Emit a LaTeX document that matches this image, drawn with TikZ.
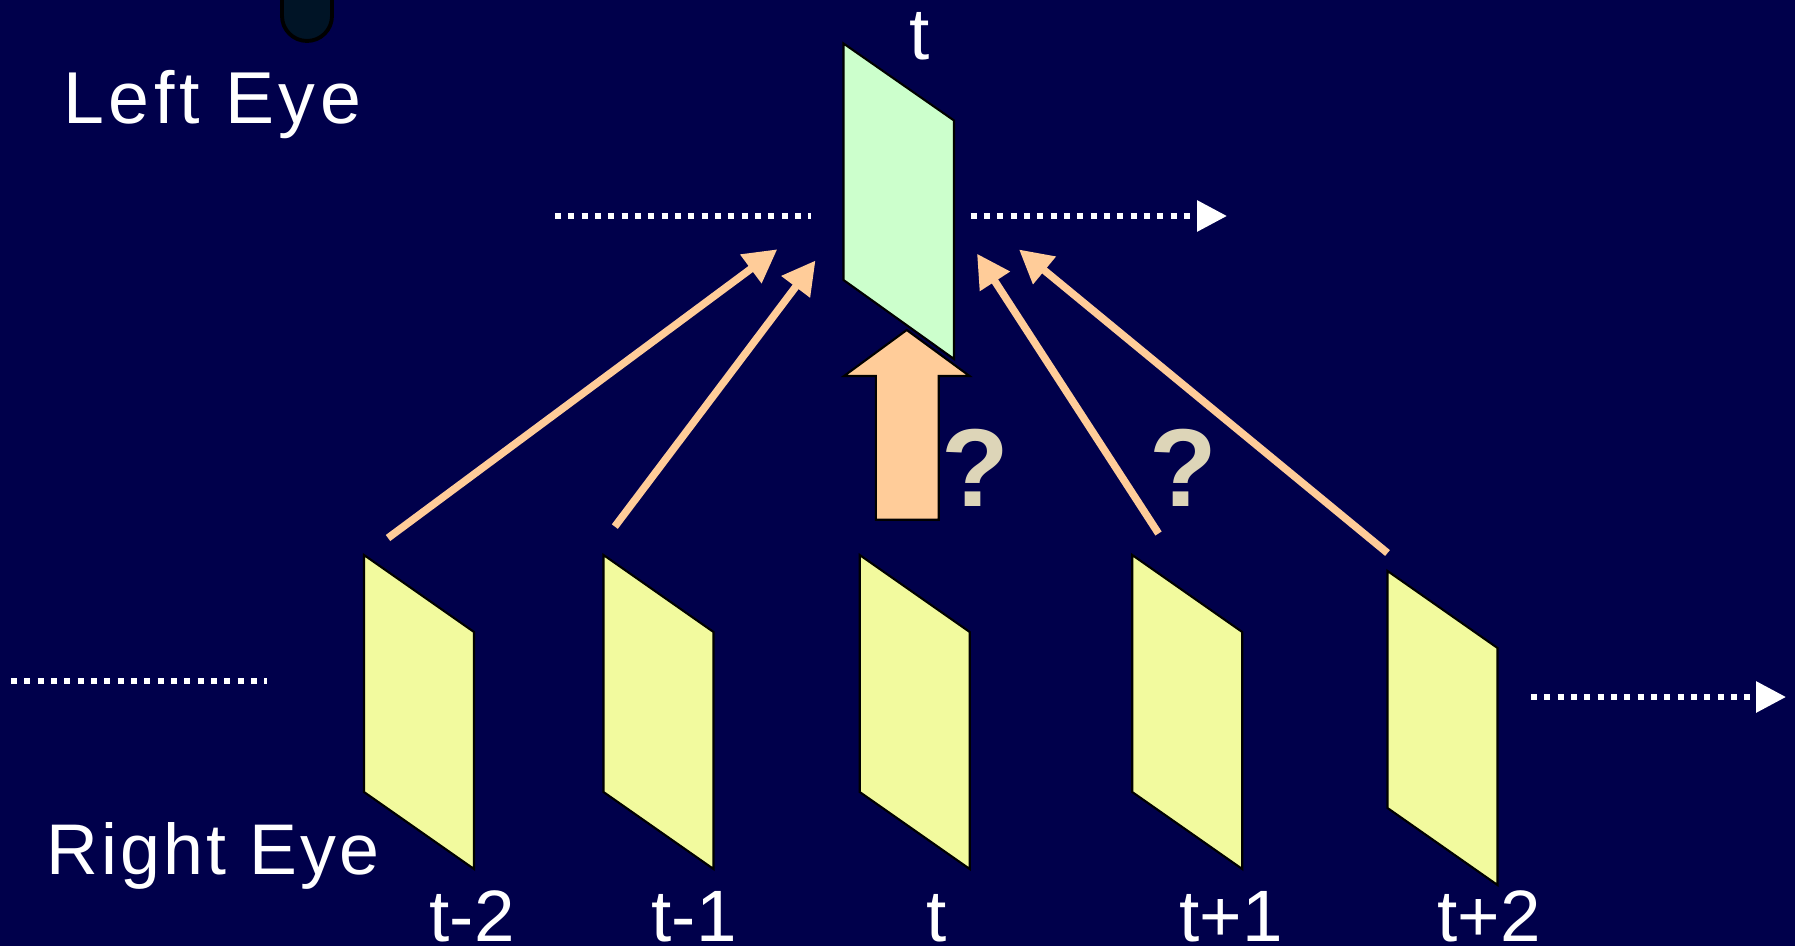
\documentclass[tikz,border=0pt]{standalone}
\usepackage{fontspec}
\setmainfont{Liberation Sans}
\usepackage{tikz}
\usetikzlibrary{arrows.meta}
\tikzset{>=latex}

\definecolor{bgnavy}{RGB}{0,0,75}
\definecolor{leftgreen}{RGB}{204,255,204}
\definecolor{rightyellow}{RGB}{242,250,158}
\definecolor{predorange}{RGB}{255,204,153}
\definecolor{askbeige}{RGB}{221,213,184}
\definecolor{lensgrey}{RGB}{0,20,38}

\tikzset{
  view/.style={draw=black, line width=0.6pt},
  timeline/.style={white, line width=0.06cm, dash pattern=on 0.06cm off 0.0733cm},
  timearrow/.style={timeline, -{Triangle[length=0.3cm,width=0.3cm]}},
  pred/.style={predorange, line width=0.075cm, -{Triangle[length=0.33cm,width=0.34cm]}},
  eyelabel/.style={white, inner sep=0pt, anchor=base west},
  timelabel/.style={white, inner sep=0pt, anchor=base, font=\fontsize{20.7}{22}\selectfont},
  ask/.style={askbeige, inner sep=0pt, anchor=base, font=\fontsize{31.5}{34}\selectfont\bfseries},
}

\begin{document}
\begin{tikzpicture}[x=0.01cm,y=-0.01cm]
           % backdrop
           \fill[bgnavy] (0,0) rectangle (1795,946);
           \useasboundingbox (0,0) rectangle (1795,946);

           % lens cap
           \draw[fill=lensgrey, line width=1.1pt, rounded corners=0.25cm] (282,-40) rectangle (332,41);

           %time lines
           \draw[timeline] (555,216) -- (810.5,216);
           \draw[timearrow] (970.5,216) -- (1227,216);
           \draw[timeline] (11,681) -- (267,681);
           \draw[timearrow] (1531,697) -- (1786,697);

           %right eye views
           \draw[view, fill=rightyellow] (364,555) coordinate (r1) -- ++(110,77) -- ++(0,237) -- ++(-110,-77) -- cycle;
           \draw[view, fill=rightyellow] (603.5,555) coordinate (r2) -- ++(110,77) -- ++(0,237) -- ++(-110,-77) -- cycle;
           \draw[view, fill=rightyellow] (859.7,555) coordinate (r3) -- ++(110,77) -- ++(0,237) -- ++(-110,-77) -- cycle;
           \draw[view, fill=rightyellow] (1132.2,555) coordinate (r4) -- ++(110,77) -- ++(0,237) -- ++(-110,-77) -- cycle;
           \draw[view, fill=rightyellow] (1387.5,571) coordinate (r5) -- ++(110,77) -- ++(0,237) -- ++(-110,-77) -- cycle;

           % big arrow t -> t
           \draw[view, fill=predorange] (875.8,519.7) -- (875.8,376) -- (844,376) -- (906.7,330)
                -- (969.5,376) -- (938.7,376) -- (938.7,519.7) -- cycle;

           %left eye view
           \draw[view, fill=leftgreen] (843.5,43.5) coordinate (l3) -- ++(110.5,77) -- ++(0,238.5) -- ++(-110.5,-79) -- cycle;

           % prediction arrows
           \coordinate (from1) at (388,538);
           \coordinate (to1) at (777.3,249.3);
           \coordinate (from2) at (614.8,526.6);
           \coordinate (to2) at (815.5,260.5);
           \coordinate (from4) at (1158.5,533.5);
           \coordinate (to4) at (977,253.7);
           \coordinate (from5) at (1387.5,553);
           \coordinate (to5) at (1019,249.5);
           \draw[pred] (from1) -- (to1);
           \draw[pred] (from2) -- (to2);
           \draw[pred] (from4) -- (to4);
           \draw[pred] (from5) -- (to5);

           \node[ask] (q3) at (975,506) {?};
           \node[ask] (q4) at (1183,506) {?};

           % labels
           \node[eyelabel, font=\fontsize{20.9}{24}\selectfont\addfontfeature{LetterSpace=6.4}] (lefteye) at (62.6,123.3) {Left Eye};
           \node[eyelabel, font=\fontsize{20.4}{24}\selectfont\addfontfeature{LetterSpace=4.3}] (righteye) at (46,874) {Right Eye};
           \node[timelabel] (tl) at (920,59.5) {t};
           \node[timelabel] (t1) at (472,941) {t-2};
           \node[timelabel] (t2) at (694,941) {t-1};
           \node[timelabel] (t3) at (937,941) {t};
           \node[timelabel] (t4) at (1231,941) {t+1};
           \node[timelabel] (t5) at (1489,941) {t+2};
        \end{tikzpicture}
\end{document}
